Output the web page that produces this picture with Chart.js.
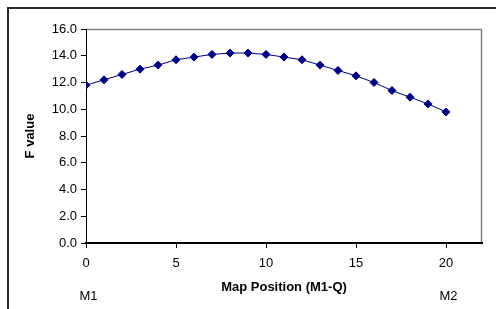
<!DOCTYPE html>
<html>
<head>
<meta charset="utf-8">
<script src="https://cdn.jsdelivr.net/npm/chart.js@4"></script>
<style>
html,body{margin:0;padding:0;background:#fff;}
#wrap{position:relative;width:496px;height:309px;}
</style>
</head>
<body>
<div id="wrap"><canvas id="c" width="496" height="309"></canvas></div>
<script>
const positions = [0,1,2,3,4,5,6,7,8,9,10,11,12,13,14,15,16,17,18,19,20];
const fValues = [11.8,12.2,12.6,13.0,13.3,13.7,13.9,14.1,14.2,14.2,14.1,13.9,13.7,13.3,12.9,12.5,12.0,11.4,10.9,10.4,9.8];
const xTicks = [0,5,10,15,20];
const yTicks = [0,2,4,6,8,10,12,14,16];
const markerLabels = ['M1','M2'];
const markerPositions = [0,20];

const FONT = 'Liberation Sans, Arial, sans-serif';

const decor = {
  id: 'decor',
  beforeDraw(chart) {
    const ctx = chart.ctx;
    const a = chart.chartArea;
    ctx.save();
    ctx.fillStyle = '#fff';
    ctx.fillRect(0,0,chart.width,chart.height);
    // outer border
    ctx.strokeStyle = '#2a2a2a';
    ctx.lineWidth = 2;
    ctx.beginPath();
    ctx.moveTo(8, chart.height);
    ctx.lineTo(8, 8);
    ctx.lineTo(chart.width, 8);
    ctx.stroke();
    // plot frame (top/right)
    ctx.strokeStyle = '#808080';
    ctx.lineWidth = 1.5;
    ctx.beginPath();
    ctx.moveTo(a.left, a.top + 0.5);
    ctx.lineTo(a.right - 0.5, a.top + 0.5);
    ctx.lineTo(a.right - 0.5, a.bottom);
    ctx.stroke();
    ctx.restore();
  },
  afterDraw(chart) {
    const ctx = chart.ctx;
    const xs = chart.scales.x;
    ctx.save();
    ctx.fillStyle = '#000';
    ctx.font = '13px ' + FONT;
    ctx.textAlign = 'center';
    ctx.textBaseline = 'middle';
    markerLabels.forEach((t, i) => {
      ctx.fillText(t, xs.getPixelForValue(markerPositions[i]) + 2.5, 296);
    });
    ctx.restore();
  }
};

new Chart(document.getElementById('c'), {
  type: 'scatter',
  data: {
    datasets: [{
      data: positions.map((p, i) => ({x: p, y: fValues[i]})),
      showLine: true,
      borderColor: '#000080',
      backgroundColor: '#000080',
      borderWidth: 1,
      pointStyle: 'rectRot',
      pointRadius: 4,
      pointBorderWidth: 1,
      pointBorderColor: '#000080',
      pointBackgroundColor: '#000080'
    }]
  },
  options: {
    responsive: false,
    animation: false,
    devicePixelRatio: 1,
    layout: {padding: {top: 29, right: 14, left: 0, bottom: 0}},
    plugins: {legend: {display: false}, tooltip: {enabled: false}},
    scales: {
      x: {
        type: 'linear',
        min: 0, max: 22,
        afterBuildTicks: s => { s.ticks = xTicks.map(v => ({value: v})); },
        afterFit: s => { s.height = 66; },
        border: {display: true, color: '#000', width: 2},
        grid: {drawOnChartArea: false, color: '#000', tickLength: 5, tickWidth: 1},
        ticks: {color: '#000', font: {family: FONT, size: 13}, padding: 8, maxRotation: 0},
        title: {display: true, text: 'Map Position (M1-Q)', color: '#000',
                font: {family: FONT, size: 13, weight: 'bold'}, padding: {top: 0, bottom: 14}}
      },
      y: {
        type: 'linear',
        min: 0, max: 16,
        afterBuildTicks: s => { s.ticks = yTicks.map(v => ({value: v})); },
        afterFit: s => { s.width = 86; },
        border: {display: true, color: '#000', width: 1},
        grid: {drawOnChartArea: false, color: '#000', tickLength: 5, tickWidth: 1},
        ticks: {color: '#000', font: {family: FONT, size: 13}, padding: 4,
                callback: v => Number(v).toFixed(1)},
        title: {display: true, text: 'F value', color: '#000',
                font: {family: FONT, size: 13, weight: 'bold'}, padding: {top: 23, bottom: 0}}
      }
    }
  },
  plugins: [decor]
});
</script>
</body>
</html>
